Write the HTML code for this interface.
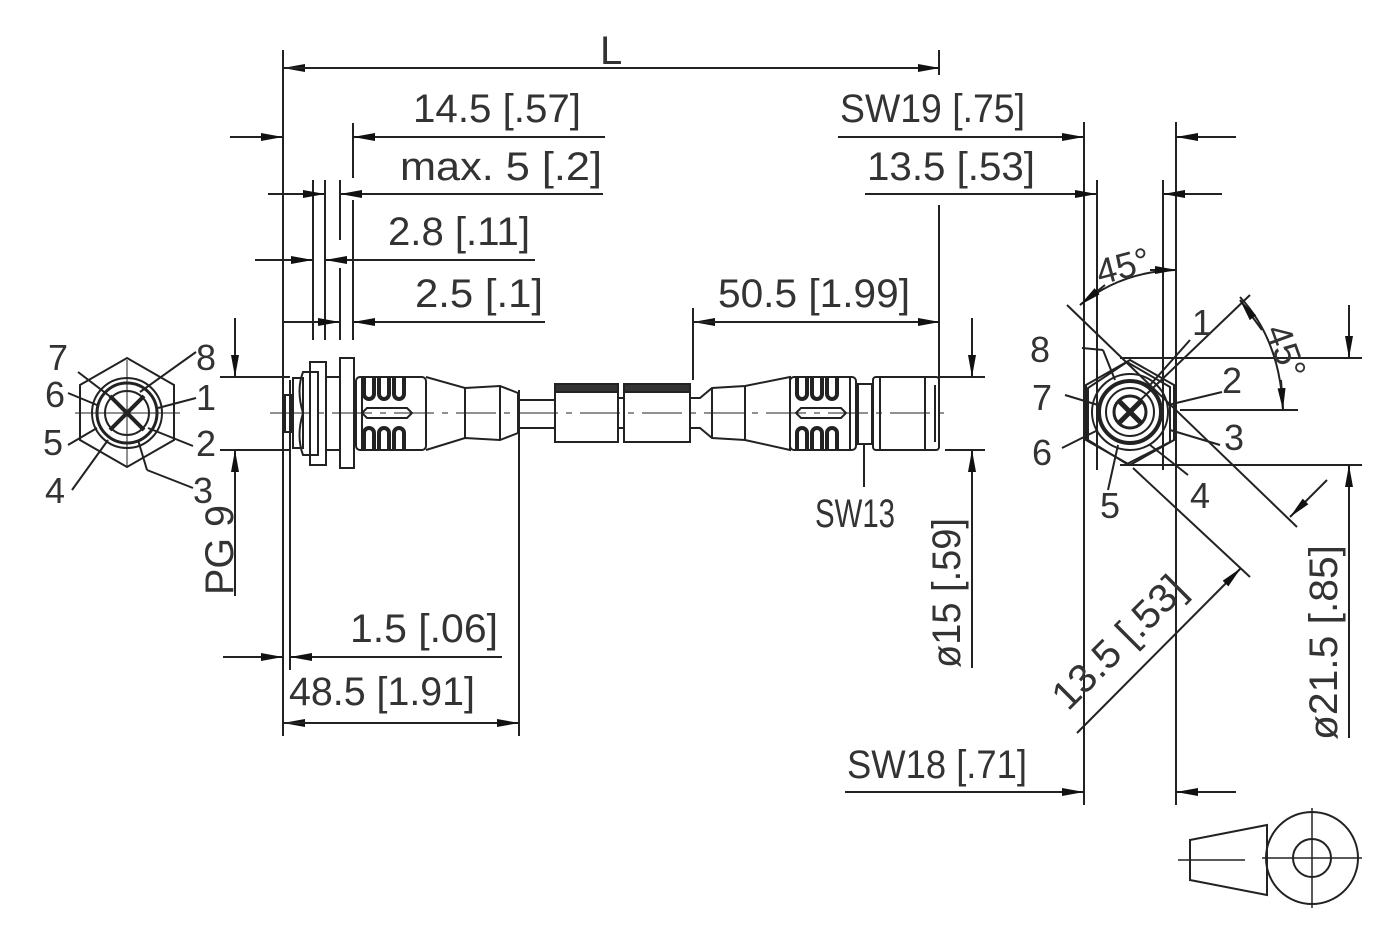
<!DOCTYPE html>
<html><head><meta charset="utf-8"><style>
html,body{margin:0;padding:0;background:#fff;}
svg{display:block;}
text{font-family:"Liberation Sans Narrow","Liberation Sans",sans-serif;fill:#333;font-size:40px;}
.s{font-size:36px;}
</style></head><body>
<svg width="1400" height="934" viewBox="0 0 1400 934" xmlns="http://www.w3.org/2000/svg">
<defs>
<marker id="a" viewBox="0 0 22 8" refX="22" refY="4" markerWidth="22" markerHeight="8" markerUnits="userSpaceOnUse" orient="auto"><path d="M0,0 L22,4 L0,8 z" fill="#111"/></marker>
</defs>
<g stroke="#222" stroke-width="2" fill="none">
<line x1="283" y1="50" x2="283" y2="736"/>
<line x1="290" y1="380" x2="290" y2="670"/>
<line x1="939" y1="50" x2="939" y2="75"/>
<line x1="939" y1="205" x2="939" y2="380"/>
<line x1="353" y1="123" x2="353" y2="178"/>
<line x1="313" y1="180" x2="313" y2="340"/>
<line x1="325" y1="180" x2="325" y2="340"/>
<line x1="340" y1="180" x2="340" y2="240"/>
<line x1="340" y1="268" x2="340" y2="340"/>
<line x1="353" y1="200" x2="353" y2="340"/>
<line x1="283" y1="200" x2="283" y2="340"/>
<line x1="693" y1="308" x2="693" y2="380"/>
<line x1="519" y1="390" x2="519" y2="736"/>
<line x1="1084" y1="122" x2="1084" y2="805"/>
<line x1="1176" y1="122" x2="1176" y2="805"/>
<line x1="1097" y1="180" x2="1097" y2="470"/>
<line x1="1163" y1="180" x2="1163" y2="470"/>
<line x1="940" y1="68" x2="283" y2="68" marker-end="url(#a)"/>
<line x1="283" y1="68" x2="940" y2="68" marker-end="url(#a)"/>
<line x1="230" y1="137" x2="283" y2="137" marker-end="url(#a)"/>
<line x1="605" y1="137" x2="353" y2="137" marker-end="url(#a)"/>
<line x1="268" y1="194" x2="325" y2="194" marker-end="url(#a)"/>
<line x1="603" y1="194" x2="340" y2="194" marker-end="url(#a)"/>
<line x1="255" y1="260" x2="313" y2="260" marker-end="url(#a)"/>
<line x1="535" y1="260" x2="325" y2="260" marker-end="url(#a)"/>
<line x1="282" y1="322" x2="340" y2="322" marker-end="url(#a)"/>
<line x1="545" y1="322" x2="353" y2="322" marker-end="url(#a)"/>
<line x1="940" y1="322" x2="693" y2="322" marker-end="url(#a)"/>
<line x1="693" y1="322" x2="940" y2="322" marker-end="url(#a)"/>
<line x1="838" y1="137" x2="1084" y2="137" marker-end="url(#a)"/>
<line x1="1236" y1="137" x2="1176" y2="137" marker-end="url(#a)"/>
<line x1="865" y1="194" x2="1097" y2="194" marker-end="url(#a)"/>
<line x1="1222" y1="194" x2="1163" y2="194" marker-end="url(#a)"/>
<line x1="845" y1="792" x2="1084" y2="792" marker-end="url(#a)"/>
<line x1="1236" y1="792" x2="1176" y2="792" marker-end="url(#a)"/>
<line x1="223" y1="657" x2="283" y2="657" marker-end="url(#a)"/>
<line x1="502" y1="657" x2="290" y2="657" marker-end="url(#a)"/>
<line x1="519" y1="723" x2="283" y2="723" marker-end="url(#a)"/>
<line x1="283" y1="723" x2="519" y2="723" marker-end="url(#a)"/>
<line x1="220" y1="377" x2="290" y2="377"/>
<line x1="220" y1="450" x2="290" y2="450"/>
<line x1="235" y1="318" x2="235" y2="377" marker-end="url(#a)"/>
<line x1="235" y1="596" x2="235" y2="450" marker-end="url(#a)"/>
<line x1="940" y1="377" x2="985" y2="377"/>
<line x1="945" y1="450" x2="985" y2="450"/>
<line x1="972" y1="318" x2="972" y2="377" marker-end="url(#a)"/>
<line x1="972" y1="668" x2="972" y2="450" marker-end="url(#a)"/>
<line x1="1120" y1="358" x2="1362" y2="358"/>
<line x1="1120" y1="465" x2="1362" y2="465"/>
<line x1="1349" y1="305" x2="1349" y2="358" marker-end="url(#a)"/>
<line x1="1349" y1="738" x2="1349" y2="465" marker-end="url(#a)"/>
<line x1="1067" y1="305" x2="1297" y2="527"/>
<line x1="1133" y1="468" x2="1250" y2="577"/>
<line x1="1130" y1="410" x2="1250" y2="295"/>
<line x1="1077" y1="733" x2="1241" y2="568" marker-end="url(#a)"/>
<line x1="1327" y1="480" x2="1290" y2="517" marker-end="url(#a)"/>
<path d="M1175,270 Q1120,272 1080,305" />
<line x1="1150" y1="270" x2="1177" y2="270" marker-end="url(#a)"/>
<line x1="1105" y1="285" x2="1080" y2="305" marker-end="url(#a)"/>
<path d="M1240,297 Q1280,340 1283,410"/>
<line x1="1262" y1="330" x2="1240" y2="300" marker-end="url(#a)"/>
<line x1="1281" y1="380" x2="1283" y2="410" marker-end="url(#a)"/>
<line x1="1180" y1="410" x2="1298" y2="410"/>

<polygon points="127,358 174,385 174,440 127,467 80,440 80,385"/>
<circle cx="127" cy="413" r="35"/>
<circle cx="127" cy="413" r="30" stroke-width="3"/>
<circle cx="127" cy="413" r="22"/>
<line x1="110" y1="396" x2="144" y2="430" stroke-width="4"/>
<line x1="144" y1="396" x2="110" y2="430" stroke-width="4"/>
<line x1="127" y1="360" x2="127" y2="466" stroke-width="1"/>
<line x1="75" y1="413" x2="180" y2="413" stroke-width="1"/>
<line x1="78" y1="372" x2="112" y2="398"/>
<line x1="68" y1="393" x2="97" y2="405"/>
<line x1="68" y1="445" x2="97" y2="428"/>
<line x1="72" y1="490" x2="108" y2="440"/>
<line x1="196" y1="352" x2="140" y2="392"/>
<line x1="196" y1="398" x2="158" y2="408"/>
<line x1="193" y1="446" x2="148" y2="428"/>
<line x1="193" y1="488" x2="147" y2="470"/><line x1="147" y1="470" x2="138" y2="440"/>

<polygon points="1130,360 1174,385 1174,440 1130,465 1086,440 1086,385"/>
<polygon points="1127,362 1170,387 1170,442 1127,464 1088,440 1088,388"/>
<circle cx="1130" cy="412" r="38"/>
<circle cx="1130" cy="412" r="31" stroke-width="4"/>
<circle cx="1130" cy="412" r="24"/>
<circle cx="1130" cy="412" r="16" stroke-width="3"/>
<line x1="1119" y1="401" x2="1141" y2="423" stroke-width="5"/>
<line x1="1141" y1="401" x2="1119" y2="423" stroke-width="5"/>
<line x1="1082" y1="348" x2="1103" y2="350"/><line x1="1103" y1="350" x2="1115" y2="380"/>
<line x1="1065" y1="395" x2="1098" y2="405"/>
<line x1="1062" y1="448" x2="1098" y2="430"/>
<line x1="1108" y1="490" x2="1118" y2="445"/>
<line x1="1188" y1="475" x2="1150" y2="445"/>
<line x1="1220" y1="445" x2="1170" y2="430"/>
<line x1="1222" y1="392" x2="1168" y2="405"/>
<line x1="1190" y1="340" x2="1150" y2="385"/>

<rect x="285" y="395" width="6" height="37"/>
<rect x="293" y="378" width="10" height="70"/>
<path d="M303,372 Q296,390 303,413 Q296,436 303,455 L318,455 L318,372 Z"/>
<rect x="310" y="362" width="16" height="103"/>
<rect x="326" y="377" width="14" height="73"/>
<rect x="340" y="358" width="14" height="110"/>
<rect x="356" y="377" width="70" height="73" rx="4"/>
<line x1="362" y1="377" x2="362" y2="450"/>
<path d="M426,377 L465,388 L500,386 L518,393 L518,433 L500,440 L465,438 L426,450"/>
<line x1="465" y1="388" x2="465" y2="438"/>
<line x1="500" y1="386" x2="500" y2="440"/>
<rect x="518" y="400" width="37" height="28"/>
<rect x="555" y="384" width="63" height="58"/>
<rect x="555" y="384" width="63" height="8" fill="#333"/>
<rect x="624" y="384" width="66" height="58"/>
<rect x="624" y="384" width="66" height="8" fill="#333"/>
<line x1="618" y1="398" x2="624" y2="398"/><line x1="618" y1="428" x2="624" y2="428"/>
<g stroke-width="4">
<path d="M364,378 v16 a5,5 0 0 0 10,0 v-16 M379,378 v16 a5,5 0 0 0 10,0 v-16 M394,378 v16 a5,5 0 0 0 10,0 v-16"/>
<path d="M364,449 v-16 a5,5 0 0 1 10,0 v16 M379,449 v-16 a5,5 0 0 1 10,0 v16 M394,449 v-16 a5,5 0 0 1 10,0 v16"/>
<path d="M797,378 v16 a5,5 0 0 0 10,0 v-16 M812,378 v16 a5,5 0 0 0 10,0 v-16 M827,378 v16 a5,5 0 0 0 10,0 v-16"/>
<path d="M797,449 v-16 a5,5 0 0 1 10,0 v16 M812,449 v-16 a5,5 0 0 1 10,0 v16 M827,449 v-16 a5,5 0 0 1 10,0 v16"/>
</g>
<path d="M362,413 l5,-5 h40 l5,5 l-5,5 h-40 z"/>
<path d="M796,413 l5,-5 h40 l5,5 l-5,5 h-40 z"/>
<path d="M690,398 L700,398 L712,388 L745,386 L790,377 L790,450 L745,440 L712,438 L700,428 L690,428"/>
<line x1="712" y1="388" x2="712" y2="438"/>
<line x1="745" y1="386" x2="745" y2="440"/>
<rect x="790" y="377" width="66" height="73" rx="4"/>
<line x1="850" y1="377" x2="850" y2="450"/>
<rect x="858" y="384" width="14" height="60"/>
<rect x="873" y="377" width="66" height="73" rx="3"/>
<line x1="880" y1="377" x2="880" y2="450"/>
<line x1="925" y1="377" x2="925" y2="450"/>
<line x1="935" y1="385" x2="935" y2="442"/>
<line x1="864" y1="444" x2="864" y2="487"/>
<line x1="270" y1="413" x2="950" y2="413" stroke-width="1" stroke-dasharray="40,8,6,8"/>
<polygon points="1190,840 1267,825 1267,895 1190,880"/>
<line x1="1178" y1="860" x2="1245" y2="860" stroke-width="1.5"/>
<circle cx="1312" cy="858" r="46"/>
<circle cx="1312" cy="858" r="19"/>
<line x1="1312" y1="808" x2="1312" y2="908" stroke-width="1.5"/>
<line x1="1262" y1="858" x2="1362" y2="858" stroke-width="1.5"/>
</g>
<text x="600" y="64">L</text>
<text x="413" y="122" textLength="168" lengthAdjust="spacingAndGlyphs">14.5 [.57]</text>
<text x="400" y="180" textLength="202" lengthAdjust="spacingAndGlyphs">max. 5 [.2]</text>
<text x="388" y="245" textLength="142" lengthAdjust="spacingAndGlyphs">2.8 [.11]</text>
<text x="415" y="307" textLength="128" lengthAdjust="spacingAndGlyphs">2.5 [.1]</text>
<text x="718" y="307" textLength="192" lengthAdjust="spacingAndGlyphs">50.5 [1.99]</text>
<text x="840" y="122" textLength="185" lengthAdjust="spacingAndGlyphs">SW19 [.75]</text>
<text x="867" y="180" textLength="168" lengthAdjust="spacingAndGlyphs">13.5 [.53]</text>
<text x="350" y="642" textLength="148" lengthAdjust="spacingAndGlyphs">1.5 [.06]</text>
<text x="289" y="705" textLength="186" lengthAdjust="spacingAndGlyphs">48.5 [1.91]</text>
<text x="815" y="527" textLength="80" lengthAdjust="spacingAndGlyphs">SW13</text>
<text x="847" y="778" textLength="180" lengthAdjust="spacingAndGlyphs">SW18 [.71]</text>
<text transform="translate(233,595) rotate(-90)" textLength="90" lengthAdjust="spacingAndGlyphs">PG 9</text>
<text transform="translate(960,668) rotate(-90)" textLength="150" lengthAdjust="spacingAndGlyphs">ø15 [.59]</text>
<text transform="translate(1337,740) rotate(-90)" textLength="195" lengthAdjust="spacingAndGlyphs">ø21.5 [.85]</text>
<text transform="translate(1068,712) rotate(-45)" textLength="170" lengthAdjust="spacingAndGlyphs">13.5 [.53]</text>
<text transform="translate(1100,285) rotate(-15)" class="s">45°</text>
<text transform="translate(1265,330) rotate(70)" class="s">45°</text>
<text x="48" y="370" class="s">7</text>
<text x="196" y="370" class="s">8</text>
<text x="45" y="407" class="s">6</text>
<text x="196" y="410" class="s">1</text>
<text x="43" y="455" class="s">5</text>
<text x="196" y="456" class="s">2</text>
<text x="45" y="503" class="s">4</text>
<text x="193" y="503" class="s">3</text>
<text x="1030" y="362" class="s">8</text>
<text x="1032" y="410" class="s">7</text>
<text x="1032" y="465" class="s">6</text>
<text x="1100" y="518" class="s">5</text>
<text x="1190" y="508" class="s">4</text>
<text x="1224" y="450" class="s">3</text>
<text x="1222" y="393" class="s">2</text>
<text x="1192" y="335" class="s">1</text>
</svg>
</body></html>
